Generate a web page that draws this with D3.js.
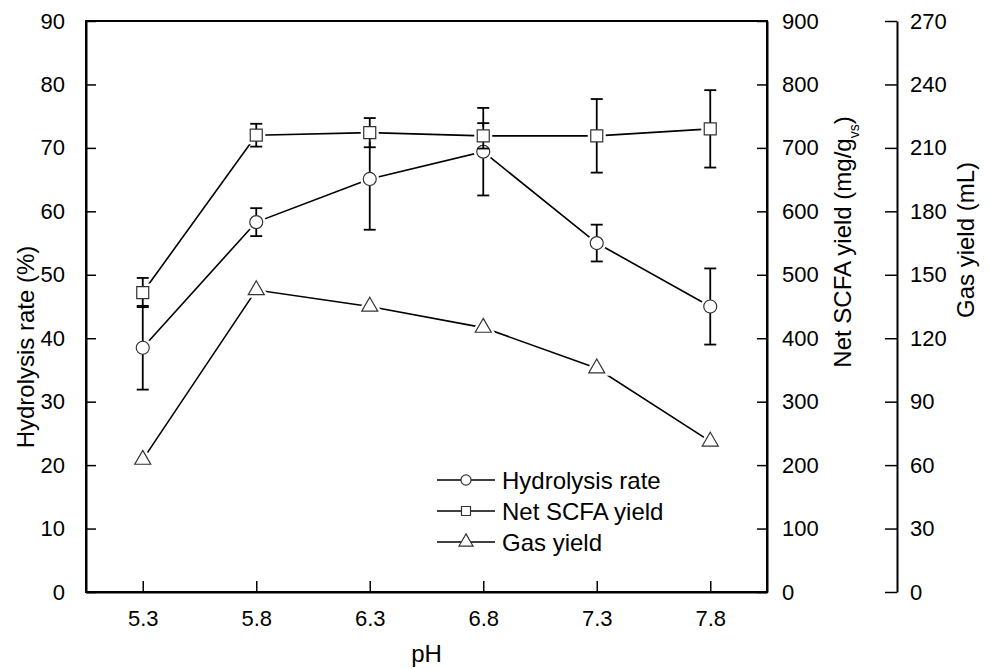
<!DOCTYPE html>
<html>
<head>
<meta charset="utf-8">
<script src="https://cdn.jsdelivr.net/npm/d3@7"></script>
<style>
  body { margin: 0; background: #fff; }
  text { font-family: "Liberation Sans", Arial, sans-serif; fill: #000; }
</style>
</head>
<body>
<div id="chart"></div>
<script>
// values
var pH = [5.3, 5.8, 6.3, 6.8, 7.3, 7.8];
var hydrolysis = [38.5, 58.3, 65.1, 69.4, 55.0, 45.0];
var hydrolysisErr = [6.6, 2.2, 8.0, 6.9, 2.9, 6.0];
var scfa = [472, 720, 724, 719, 719, 730];
var scfaErr = [23, 18, 23, 20, 58, 61];
var gas = [62.6, 142.8, 135, 125, 105.8, 71.2];

var leftTicks = [0, 10, 20, 30, 40, 50, 60, 70, 80, 90];
var scfaTicks = [0, 100, 200, 300, 400, 500, 600, 700, 800, 900];
var gasTicks = [0, 30, 60, 90, 120, 150, 180, 210, 240, 270];

var W = 990, H = 669;
var plotL = 86, plotR = 767, plotT = 21, plotB = 592;

var svg = d3.select("#chart").append("svg")
  .attr("width", W)
  .attr("height", H);

var x = d3.scaleLinear().domain([5.05, 8.05]).range([plotL, plotR]);
var yL = d3.scaleLinear().domain([0, 90]).range([plotB, plotT]);
var yS = d3.scaleLinear().domain([0, 900]).range([plotB, plotT]);
var yG = d3.scaleLinear().domain([0, 270]).range([plotB, plotT]);

// axes
function styleAxis(g) {
  g.selectAll("path.domain").attr("stroke", "#000").attr("stroke-width", 2);
  g.selectAll(".tick line").attr("stroke", "#000").attr("stroke-width", 1.5);
  g.selectAll(".tick text").style("font-size", "22px").attr("fill", "#000");
}

svg.append("g")
  .attr("transform", "translate(" + plotL + ",0)")
  .call(d3.axisLeft(yL).tickValues(leftTicks).tickSizeInner(-10).tickSizeOuter(0).tickPadding(21))
  .call(styleAxis);

svg.append("g")
  .attr("transform", "translate(0," + plotB + ")")
  .call(d3.axisBottom(x).tickValues(pH).tickFormat(d3.format(".1f")).tickSizeInner(-11).tickSizeOuter(0).tickPadding(18))
  .call(styleAxis);

svg.append("g")
  .attr("transform", "translate(" + plotR + ",0)")
  .call(d3.axisRight(yS).tickValues(scfaTicks).tickSizeInner(-10).tickSizeOuter(0).tickPadding(15))
  .call(styleAxis);

svg.append("g")
  .attr("transform", "translate(897,0)")
  .call(d3.axisRight(yG).tickValues(gasTicks).tickSizeInner(-12).tickSizeOuter(0).tickPadding(13))
  .call(styleAxis);

// frame
svg.append("rect")
  .attr("x", plotL).attr("y", plotT)
  .attr("width", plotR - plotL).attr("height", plotB - plotT)
  .attr("fill", "none").attr("stroke", "#000").attr("stroke-width", 2);

// axis titles
svg.append("text")
  .attr("transform", "translate(34,347) rotate(-90)")
  .attr("text-anchor", "middle")
  .style("font-size", "24px")
  .text("Hydrolysis rate (%)");

var st = svg.append("text")
  .attr("transform", "translate(851,242) rotate(-90)")
  .attr("text-anchor", "middle")
  .style("font-size", "24px");
st.append("tspan").text("Net SCFA yield (mg/g");
st.append("tspan").attr("baseline-shift", "sub").style("font-size", "14px").text("vs");
st.append("tspan").text(")");

svg.append("text")
  .attr("transform", "translate(974,240) rotate(-90)")
  .attr("text-anchor", "middle")
  .style("font-size", "24px")
  .text("Gas yield (mL)");

svg.append("text")
  .attr("x", (plotL + plotR) / 2).attr("y", 662)
  .attr("text-anchor", "middle")
  .style("font-size", "24px")
  .text("pH");

// series
var series = [
  { name: "Hydrolysis rate", vals: hydrolysis, err: hydrolysisErr, y: yL, sym: d3.symbolCircle, size: 133, lsize: 80 },
  { name: "Net SCFA yield", vals: scfa, err: scfaErr, y: yS, sym: d3.symbolSquare, size: 144, lsize: 81 },
  { name: "Gas yield", vals: gas, err: null, y: yG, sym: d3.symbolTriangle, size: 111, lsize: 85 }
];

series.forEach(function(s) {
  var g = svg.append("g");
  var pts = pH.map(function(p, i) { return { x: p, v: s.vals[i], e: s.err ? s.err[i] : 0 }; });

  g.append("path")
    .datum(pts)
    .attr("fill", "none")
    .attr("stroke", "#000")
    .attr("stroke-width", 1.6)
    .attr("d", d3.line().x(function(d) { return x(d.x); }).y(function(d) { return s.y(d.v); }));

  var sym = d3.symbol().type(s.sym).size(s.size);

  // white halo so lines stop short of the markers
  g.selectAll(".halo").data(pts).enter().append("path")
    .attr("transform", function(d) { return "translate(" + x(d.x) + "," + s.y(d.v) + ")"; })
    .attr("d", sym)
    .attr("fill", "#fff").attr("stroke", "#fff").attr("stroke-width", 6);

  if (s.err) {
    var eb = g.selectAll(".err").data(pts).enter().append("g")
      .attr("stroke", "#000").attr("stroke-width", 1.8);
    eb.append("line")
      .attr("x1", function(d) { return x(d.x); }).attr("x2", function(d) { return x(d.x); })
      .attr("y1", function(d) { return s.y(d.v - d.e); }).attr("y2", function(d) { return s.y(d.v + d.e); });
    eb.append("line")
      .attr("x1", function(d) { return x(d.x) - 6; }).attr("x2", function(d) { return x(d.x) + 6; })
      .attr("y1", function(d) { return s.y(d.v + d.e); }).attr("y2", function(d) { return s.y(d.v + d.e); });
    eb.append("line")
      .attr("x1", function(d) { return x(d.x) - 6; }).attr("x2", function(d) { return x(d.x) + 6; })
      .attr("y1", function(d) { return s.y(d.v - d.e); }).attr("y2", function(d) { return s.y(d.v - d.e); });
  }

  g.selectAll(".mark").data(pts).enter().append("path")
    .attr("transform", function(d) { return "translate(" + x(d.x) + "," + s.y(d.v) + ")"; })
    .attr("d", sym)
    .attr("fill", "#fff").attr("stroke", "#333").attr("stroke-width", 1.2);
});

// legend
var legend = svg.append("g").attr("transform", "translate(437,480)");
var row = legend.selectAll(".row").data(series).enter().append("g")
  .attr("transform", function(d, i) { return "translate(0," + (i * 31) + ")"; });
row.append("line")
  .attr("x1", 0).attr("x2", 58).attr("y1", 0).attr("y2", 0)
  .attr("stroke", "#000").attr("stroke-width", 1.6);
row.append("path")
  .attr("transform", "translate(29,0)")
  .attr("d", function(d) { return d3.symbol().type(d.sym).size(d.lsize)(); })
  .attr("fill", "#fff").attr("stroke", "#333").attr("stroke-width", 1.2);
row.append("text")
  .attr("x", 65).attr("dy", "0.36em")
  .style("font-size", "24px")
  .text(function(d) { return d.name; });
</script>
</body>
</html>
